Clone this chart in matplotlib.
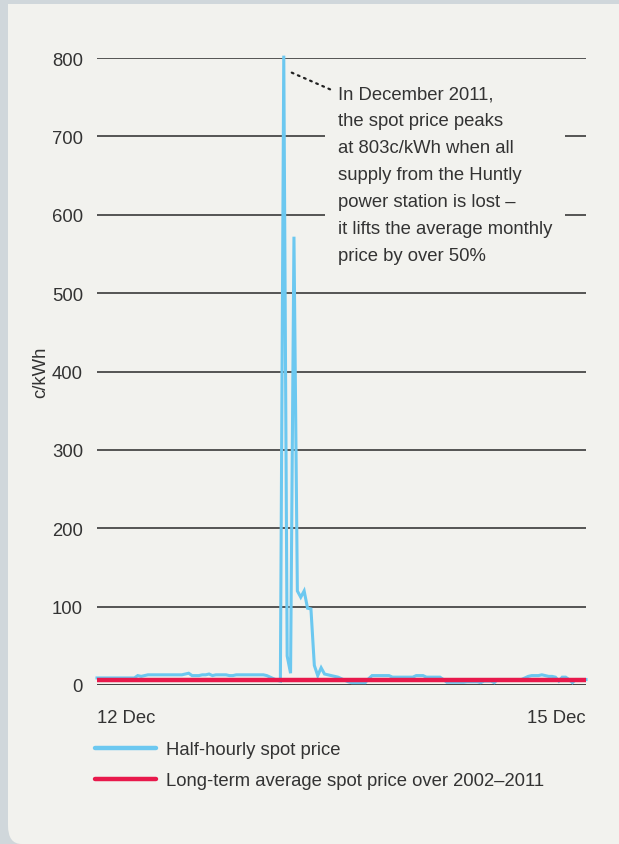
import matplotlib
matplotlib.use("Agg")
import matplotlib.pyplot as plt
from matplotlib.patches import Rectangle, FancyBboxPatch
from matplotlib.lines import Line2D
from matplotlib.transforms import offset_copy
import numpy as np

# ---------------- data ----------------
# half-hourly spot price (c/kWh), 12 Dec 00:00 to 15 Dec 00:00 (145 points)
spot_price = [
    9, 9, 9, 9, 9, 9, 9, 9, 9, 9, 9, 9,
    12, 11, 12, 13, 13, 13, 13, 13, 13, 13, 13, 13, 13, 13, 14, 15,
    12, 12, 12, 13, 13, 14, 12, 13, 13, 13, 13, 12, 12, 13, 13, 13,
    13, 13, 13, 13, 13, 13, 12, 10, 8, 6, 5,
    803, 37, 15, 572, 120, 112, 120, 98, 97, 25, 12, 22, 14, 13, 12,
    11, 10, 8, 6, 4, 3, 3, 3, 3, 3, 8,
    12, 12, 12, 12, 12, 12, 10, 10, 10, 10, 10, 10, 10, 12, 12, 12,
    10, 10, 10, 10, 10, 7, 3.5, 3.5, 3.5, 3.5, 3.5, 3.5, 4, 4, 4, 4,
    3, 5, 5, 5, 3, 7, 7, 7, 7, 7, 7, 7, 7, 9, 11, 12, 12, 12, 13,
    12, 11, 11, 10, 5, 10, 10, 7, 3, 7, 7, 7, 7,
]
long_term_avg = 7.0
y_ticks = [0, 100, 200, 300, 400, 500, 600, 700, 800]
x_tick_pos = [0, 144]
x_tick_labels = ["12 Dec", "15 Dec"]
series_labels = ["Half-hourly spot price", "Long-term average spot price over 2002\u20132011"]
note = ("In December 2011,\nthe spot price peaks\nat 803c/kWh when all\n"
        "supply from the Huntly\npower station is lost \u2013\n"
        "it lifts the average monthly\nprice by over 50%")

# ---------------- style ----------------
plt.rcParams['font.family'] = ['Liberation Sans', 'DejaVu Sans']
TXT = '#333333'
BLUE = '#6cc8f0'
RED = '#e8194b'
PANEL = '#f2f2ee'
OUTER = '#d0d7db'
FS = 13.3

W, H = 619, 845
fig = plt.figure(figsize=(W / 100, H / 100), dpi=100)
fig.patch.set_facecolor(OUTER)

# panel with rounded bottom-left corner (square top-left)
fig.patches.append(FancyBboxPatch((8 / W, 0.0), 1.2, 1 - 5 / H,
                                  boxstyle="round,pad=0,rounding_size=0.022",
                                  transform=fig.transFigure, facecolor=PANEL,
                                  edgecolor='none', zorder=-10))
fig.patches.append(Rectangle((8 / W, 0.5), 1.0, 0.5 - 5 / H,
                             transform=fig.transFigure, facecolor=PANEL,
                             edgecolor='none', zorder=-10))

ax = fig.add_axes([97 / W, 159 / H, 489 / W, 627 / H])
ax.set_facecolor('none')
ax.set_zorder(1)
x = np.arange(len(spot_price))

for yv in y_ticks:
    ax.axhline(yv, color='#2a2a2a' if yv else '#111111', lw=1.1, zorder=1)

ax.plot(x, spot_price, color=BLUE, lw=2.2, zorder=3, clip_on=False,
        solid_joinstyle='miter')
ax.plot([x[0], x[-1]], [long_term_avg, long_term_avg], color=RED, lw=3.2,
        zorder=4, solid_capstyle='round')

ax.set_xlim(0, 144)
ax.set_ylim(0, 800)
for s in ax.spines.values():
    s.set_visible(False)
ax.set_yticks(y_ticks)
ax.set_yticklabels([str(v) for v in y_ticks], fontsize=FS, color=TXT)
ax.tick_params(axis='y', length=0, pad=10)
ax.set_xticks(x_tick_pos)
ax.set_xticklabels(x_tick_labels, fontsize=FS, color=TXT)
ax.tick_params(axis='x', length=0, pad=17)
xl = ax.get_xticklabels()
xl[0].set_ha('left')
xl[1].set_ha('right')
ax.set_ylabel('c/kWh', fontsize=FS, color=TXT, labelpad=2)

# annotation
ax.text(0.493, 0.956, note, transform=ax.transAxes, ha='left', va='top',
        fontsize=FS, color=TXT, linespacing=1.76, zorder=5,
        bbox=dict(boxstyle='square,pad=0.7', facecolor=PANEL, edgecolor='none'))
pk = int(np.argmax(spot_price))
ax.annotate('', xy=(pk, spot_price[pk]),
            xycoords=offset_copy(ax.transData, fig=fig, x=47, y=-34, units='dots'),
            xytext=(pk, spot_price[pk]),
            textcoords=offset_copy(ax.transData, fig=fig, x=8, y=-17, units='dots'),
            arrowprops=dict(arrowstyle='-', linestyle=(0, (0.8, 2.2)), lw=1.6,
                            color='#222222', shrinkA=0, shrinkB=0,
                            capstyle='round'),
            zorder=6)

# legend
handles = [Line2D([], [], color=BLUE, lw=3.2, solid_capstyle='round'),
           Line2D([], [], color=RED, lw=3.2, solid_capstyle='round')]
leg = fig.legend(handles, series_labels, loc='upper left',
                 bbox_to_anchor=(88 / W, 1 - 735 / H), frameon=False,
                 fontsize=FS, handlelength=3.3, handletextpad=0.5,
                 labelspacing=0.75, borderaxespad=0)
for t in leg.get_texts():
    t.set_color(TXT)

fig.savefig('out.png', dpi=100, facecolor=fig.get_facecolor())
